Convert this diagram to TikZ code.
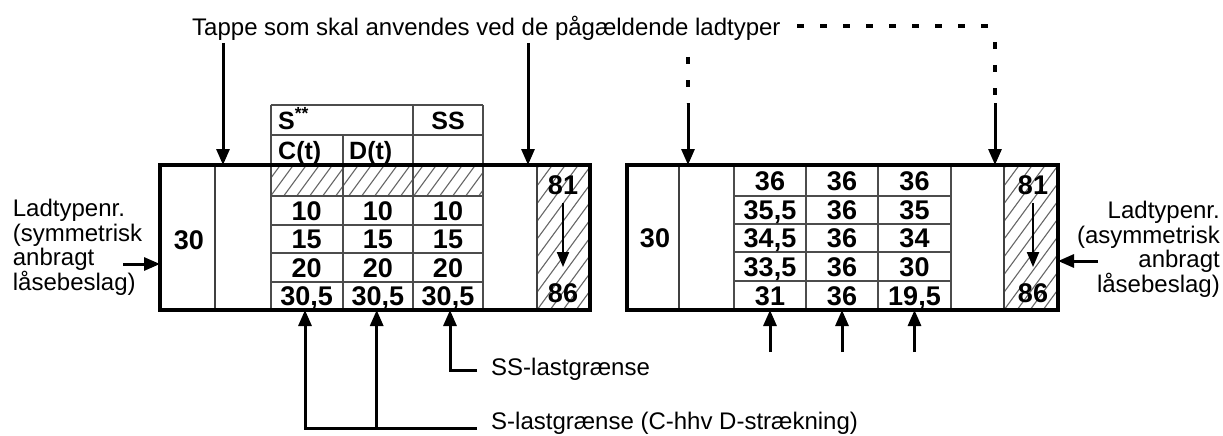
\documentclass[tikz,border=0pt]{standalone}
\usepackage{fontspec}
\setmainfont{Liberation Sans}
\usetikzlibrary{arrows.meta}
\newcommand\myhatch[4]{%
  \begin{scope}
  \clip (#1,#2) rectangle (#3,#4);
  \foreach \k in {-130,-117,...,240} \draw[hatchline] ({#1+(\k)},#4) -- ++(110,-150);
  \end{scope}}
\tikzset{
  boxline/.style={draw=black, line width=3.2pt},
  innerline/.style={draw=black!75, line width=2.1pt},
  tabline/.style={draw=black!70, line width=2pt},
  hatchline/.style={draw=black!60, line width=1.1pt},
  arr/.style={line width=3pt, -{Triangle[length=16pt,width=13pt]}},
  thinarr/.style={line width=2pt, -{Triangle[length=15pt,width=12pt]}},
  dashpat/.style={line width=3.6pt, dash pattern=on 7pt off 16pt},
  lbl/.style={font=\fontsize{24}{24.5}\selectfont, inner sep=0pt},
  lblc/.style={lbl, text height=17.2pt, text depth=0pt},
  num/.style={font=\fontsize{27}{27}\selectfont\bfseries, inner sep=0pt, text height=19.5pt, text depth=0pt},
  head/.style={font=\fontsize{25}{25}\selectfont\bfseries, inner sep=0pt, text height=18pt, text depth=0pt},
}
\begin{document}
\begin{tikzpicture}[x=1pt,y=-1pt]
\useasboundingbox (0,0) rectangle (1223,436);
% ---------- hatching ----------
\myhatch{270.7}{165}{483}{196}
\myhatch{537}{165}{590}{310}
\myhatch{1004}{165}{1058}{310}
% ---------- left box ----------
\draw[tabline] (270.7,105) -- (270.7,310);
\draw[tabline] (342.7,135) -- (342.7,310);
\draw[tabline] (413,105) -- (413,310);
\draw[tabline] (483,105) -- (483,310);
\draw[tabline] (270.7,105) -- (483,105);
\draw[tabline] (270.7,135) -- (483,135);
\foreach \yy in {196,225,253,282} \draw[tabline] (270.7,\yy) -- (483,\yy);
\draw[innerline] (215,165) -- (215,310);
\draw[innerline] (537,165) -- (537,310);
\draw[boxline] (160,165) rectangle (590,310);
% ---------- right box ----------
\foreach \xx in {734,806,878,951} \draw[tabline] (\xx,165) -- (\xx,310);
\foreach \yy in {196,224,252,281} \draw[tabline] (734,\yy) -- (951,\yy);
\draw[innerline] (679,165) -- (679,310);
\draw[innerline] (1004,165) -- (1004,310);
\draw[boxline] (627,165) rectangle (1058,310);
% ---------- texts left ----------
\node[head, anchor=west] (hS) at (278,120) {S\textsuperscript{**}};
\node[head] (hSS) at (448,120) {SS};
\node[head, anchor=west] (hC) at (278,150.5) {C(t)};
\node[head, anchor=west] (hD) at (349,150.5) {D(t)};
\node[num] (l30) at (189,240) {30};
\node[num] (l81) at (563,185) {81};
\node[num] (l86) at (563,293) {86};
\foreach \v [count=\r] in {10,15,20,30{,}5} {
  \pgfmathsetmacro\yy{{210.5,239,267.5,296}[\r-1]}
  \node[num] (lc1r\r) at (306.7,\yy) {\v};
  \node[num] (lc2r\r) at (377.8,\yy) {\v};
  \node[num] (lc3r\r) at (448,\yy) {\v};
}
% ---------- texts right ----------
\node[num] (r30) at (655,238) {30};
\node[num] (r81) at (1033,185) {81};
\node[num] (r86) at (1033,293) {86};
\node[num] (ra1) at (770,180.5) {36};   \node[num] (rb1) at (842,180.5) {36}; \node[num] (rc1) at (914.5,180.5) {36};
\node[num] (ra2) at (770,210) {35,5};   \node[num] (rb2) at (842,210) {36};   \node[num] (rc2) at (914.5,210) {35};
\node[num] (ra3) at (770,238) {34,5};   \node[num] (rb3) at (842,238) {36};   \node[num] (rc3) at (914.5,238) {34};
\node[num] (ra4) at (770,266.5) {33,5}; \node[num] (rb4) at (842,266.5) {36}; \node[num] (rc4) at (914.5,266.5) {30};
\node[num] (ra5) at (770,295.5) {31};   \node[num] (rb5) at (842,295.5) {36}; \node[num] (rc5) at (914.5,295.5) {19,5};
% ---------- labels ----------
\node[lblc, anchor=west] (tappe) at (192,27) {Tappe som skal anvendes ved de pågældende ladtyper};
\node[lbl, anchor=north west, align=left] (ladL) at (12.7,199.2) {Ladtypenr.\\(symmetrisk\\anbragt\\låsebeslag)};
\node[lbl, anchor=north east, align=right] (ladR) at (1220,201) {Ladtypenr.\\(asymmetrisk\\anbragt\\låsebeslag)};
\node[lblc, anchor=west] (sslim) at (491,367) {SS-lastgrænse};
\node[lblc, anchor=west] (slim) at (491,421) {S-lastgrænse (C-hhv D-strækning)};
% ---------- arrows ----------
\coordinate (t1) at (223,43);  \coordinate (t1e) at (223,165);
\coordinate (t2) at (528,43);  \coordinate (t2e) at (528,165);
\draw[arr] (t1) -- (t1e);
\draw[arr] (t2) -- (t2e);
\coordinate (d1a) at (688,57); \coordinate (d1b) at (688,103); \coordinate (d1e) at (688,165);
\draw[dashpat] (d1a) -- (d1b);
\draw[arr] (d1b) -- (d1e);
\coordinate (dh1) at (797,26); \coordinate (dh2) at (992,26);
\draw[dashpat] (dh1) -- (dh2);
\coordinate (d2a) at (995,42); \coordinate (d2b) at (995,103); \coordinate (d2e) at (995,165);
\draw[dashpat] (d2a) -- (d2b);
\draw[arr] (d2b) -- (d2e);
% side arrows
\coordinate (sl) at (123,264); \coordinate (sle) at (160,264);
\draw[arr] (sl) -- (sle);
\coordinate (sr) at (1098,261); \coordinate (sre) at (1058,261);
\draw[arr] (sr) -- (sre);
% 81 -> 86
\draw[thinarr] ([yshift=-8pt]l81.south) -- ([yshift=16pt]l86.north);
\draw[thinarr] ([yshift=-8pt]r81.south) -- ([yshift=16pt]r86.north);
% bottom left
\coordinate (b1) at (305,310); \coordinate (b2) at (376.7,310); \coordinate (b3) at (450,310);
\coordinate (sEnd) at (477,428); \coordinate (ssEnd) at (477,370);
\draw[arr] (sEnd) -- (305,428) -- (b1);
\draw[arr] (376.7,428) -- (b2);
\draw[arr] (ssEnd) -- (450,370) -- (b3);
% bottom right
\coordinate (rb1s) at (770,352); \coordinate (rb1e) at (770,310);
\coordinate (rb2s) at (842,352); \coordinate (rb2e) at (842,310);
\coordinate (rb3s) at (914.5,352); \coordinate (rb3e) at (914.5,310);
\draw[arr] (rb1s) -- (rb1e);
\draw[arr] (rb2s) -- (rb2e);
\draw[arr] (rb3s) -- (rb3e);
\end{tikzpicture}
\end{document}
